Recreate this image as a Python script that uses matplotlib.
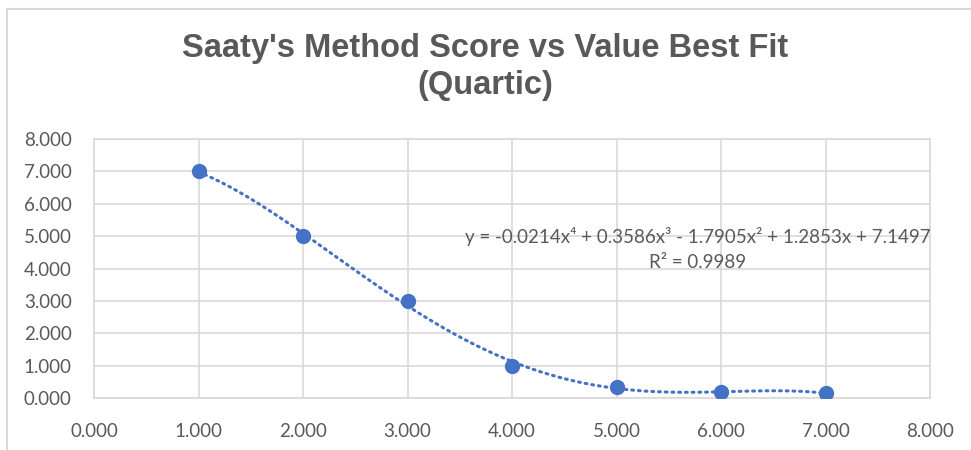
import numpy as np
import matplotlib.pyplot as plt
from matplotlib.patches import Rectangle
from matplotlib import font_manager

# Saaty's scale: score vs value
x_vals = [1, 2, 3, 4, 5, 6, 7]
y_vals = [7, 5, 3, 1, 1 / 3, 1 / 5, 1 / 7]
x_ticks = [0, 1, 2, 3, 4, 5, 6, 7, 8]
y_ticks = [0, 1, 2, 3, 4, 5, 6, 7, 8]
title_text = "Saaty's Method Score vs Value Best Fit\n(Quartic)"
eq_text = "y = -0.0214x⁴ + 0.3586x³ - 1.7905x² + 1.2853x + 7.1497"
r2_text = "R² = 0.9989"

blue = "#4472C4"
grey_txt = "#595959"
grid_c = "#D9D9D9"

names = {f.name for f in font_manager.fontManager.ttflist}
title_font = "Liberation Sans Narrow" if "Liberation Sans Narrow" in names else "Liberation Sans"
body_font = ["Lato", "DejaVu Sans"]

fig = plt.figure(figsize=(9.71, 4.5), dpi=100)
fig.patches.append(Rectangle((7 / 971, -0.1), 1.2, 1.1 - 9 / 450, transform=fig.transFigure,
                             fill=False, edgecolor=grid_c, lw=1.5))

ax = fig.add_axes([94 / 971, 52 / 450, 836 / 971, 259 / 450])

# quartic trendline fitted to the points
coef = np.polyfit(x_vals, y_vals, 4)
xs = np.linspace(min(x_vals), max(x_vals), 300)
ax.plot(xs, np.polyval(coef, xs), color=blue, lw=2.2, ls=(0, (0.6, 1.6)),
        dash_capstyle="round", zorder=3)
ax.plot(x_vals, y_vals, "o", color=blue, ms=10, zorder=4)

ax.set_xlim(0, 8)
ax.set_ylim(0, 8)
ax.set_xticks(x_ticks)
ax.set_yticks(y_ticks)
ax.set_xticklabels([f"{t:.3f}" for t in x_ticks])
ax.set_yticklabels([f"{t:.3f}" for t in y_ticks])
ax.tick_params(length=0, labelsize=13.5, labelcolor=grey_txt)
ax.tick_params(axis="x", pad=18)
ax.tick_params(axis="y", pad=16)
for lab in ax.get_xticklabels() + ax.get_yticklabels():
    lab.set_family(body_font)
ax.grid(True, color=grid_c, lw=1.2)
ax.set_axisbelow(True)
for s in ax.spines.values():
    s.set_color(grid_c)
    s.set_linewidth(1.2)

fig.text(0.5, 1 - 67 / 450, title_text, ha="center", va="center",
         fontsize=23.5, fontweight="bold", color=grey_txt, family=title_font,
         linespacing=1.25)

ax.text(5.78, 5.0, eq_text, ha="center", va="center", fontsize=13.5,
        color=grey_txt, family=body_font)
ax.text(5.78, 4.2, r2_text, ha="center", va="center", fontsize=13.5,
        color=grey_txt, family=body_font)

fig.savefig("out.png", dpi=100)
